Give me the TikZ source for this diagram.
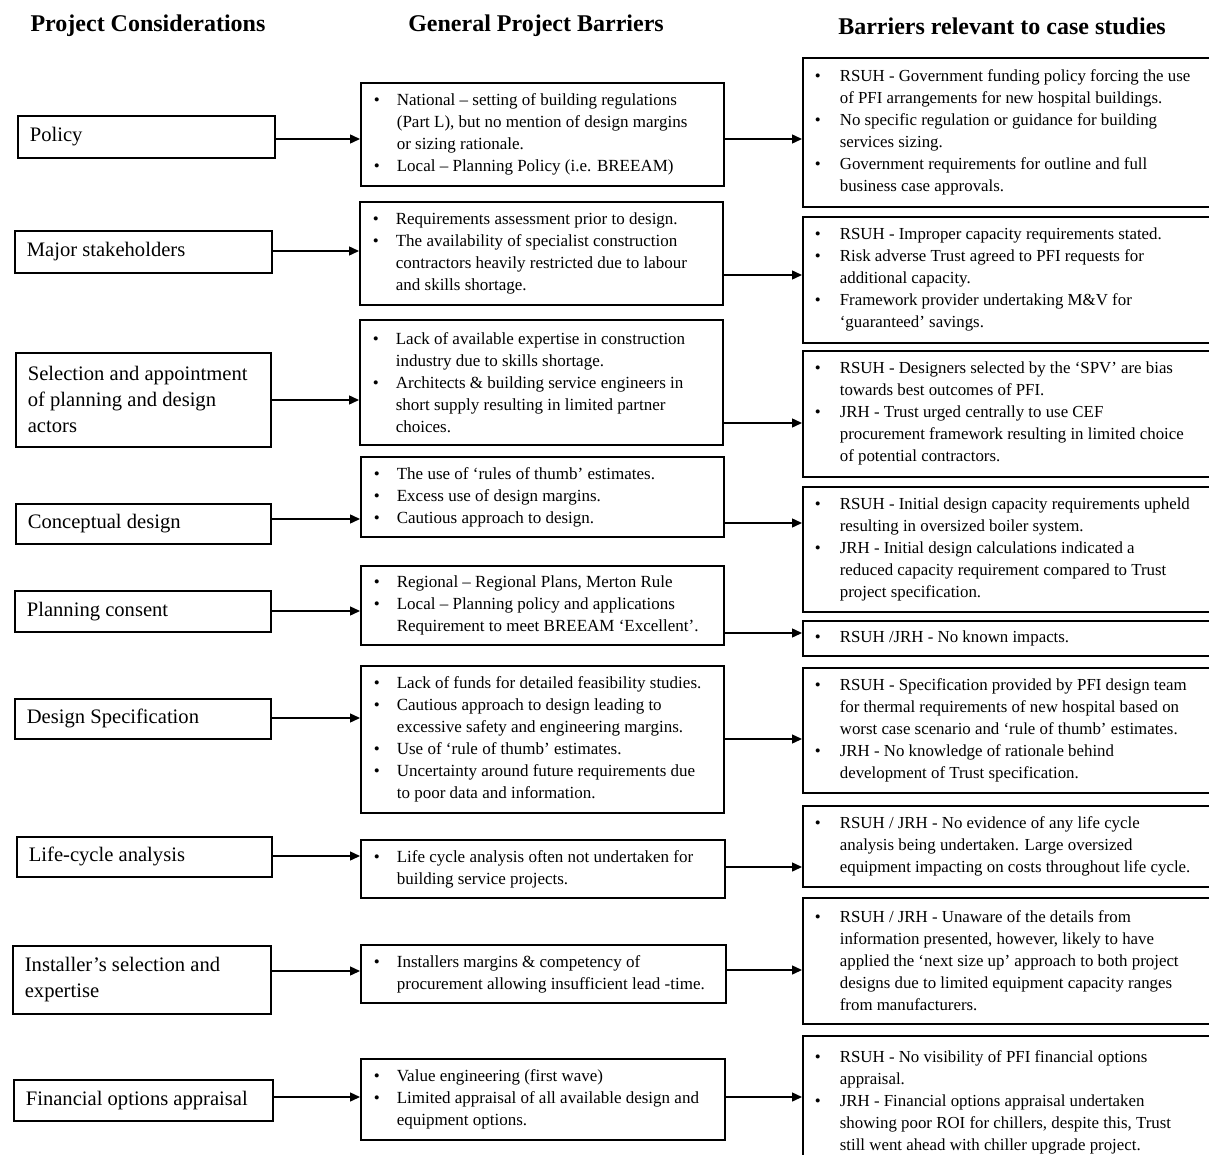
\documentclass[tikz,border=0pt]{standalone}
\usepackage{fontspec}
\setmainfont{Liberation Serif}
\usetikzlibrary{arrows.meta}
\newcommand\bitem[3]{\par\noindent\hangindent=#2pt\hangafter=1\makebox[#2pt][l]{\hspace{#1pt}\textbullet}#3\par}
\newcommand\mb[1]{\bitem{3}{26}{#1}}
\newcommand\rb[1]{\bitem{2}{27}{#1}}
\newcommand\nl{\newline}
\tikzset{
 box/.style={draw, line width=1.7pt, anchor=north west, inner xsep=10pt, inner ysep=0pt},
 lbox/.style={box, inner xsep=12pt, font=\fontsize{20.6}{26}\selectfont},
 mbox/.style={box, font=\fontsize{17}{22}\selectfont},
 rbox/.style={box, font=\fontsize{16.85}{22}\selectfont, minimum width=410},
 arr/.style={line width=1.4pt, -{Triangle[length=10pt,width=9pt]}},
 head/.style={font=\fontsize{24}{28}\selectfont\bfseries, anchor=base},
}
\begin{document}
\begin{tikzpicture}[x=1pt,y=-1pt]
\useasboundingbox (0,0) rectangle (1209,1155);
\clip (0,0) rectangle (1209,1155);
% headers
\node[head] (h1) at (148,32) {Project Considerations};
\node[head] (h2) at (536,32) {General Project Barriers};
\node[head] (h3) at (1002,35) {Barriers relevant to case studies};
% left boxes
\node[lbox, minimum width=257, minimum height=42] (l1) at (17,115) {\begin{minipage}{233pt}Policy\end{minipage}};
\node[lbox, minimum width=257, minimum height=42] (l2) at (14,230) {\begin{minipage}{233pt}Major stakeholders\end{minipage}};
\node[lbox, minimum width=255, minimum height=94] (l3) at (15,352) {\begin{minipage}{231pt}Selection and appointment\nl of planning and design\nl actors\end{minipage}};
\node[lbox, minimum width=255, minimum height=40] (l4) at (15,503) {\begin{minipage}{231pt}Conceptual design\end{minipage}};
\node[lbox, minimum width=256, minimum height=41] (l5) at (14,590) {\begin{minipage}{232pt}Planning consent\end{minipage}};
\node[lbox, minimum width=256, minimum height=40] (l6) at (14,698) {\begin{minipage}{232pt}Design Specification\end{minipage}};
\node[lbox, minimum width=255, minimum height=40] (l7) at (16,836) {\begin{minipage}{231pt}Life-cycle analysis\end{minipage}};
\node[lbox, minimum width=258, minimum height=68] (l8) at (12,945) {\begin{minipage}{234pt}Installer’s selection and\nl expertise\end{minipage}};
\node[lbox, minimum width=259, minimum height=41] (l9) at (13,1079) {\begin{minipage}{235pt}Financial options appraisal\end{minipage}};
% middle boxes
\node[mbox, minimum width=363, minimum height=103] (m1) at (360,82) {\begin{minipage}{343pt}
\mb{National – setting of building regulations\nl (Part L), but no mention of design margins\nl or sizing rationale.}
\mb{Local – Planning Policy (i.e. BREEAM)}\end{minipage}};
\node[mbox, minimum width=363, minimum height=103] (m2) at (359,201) {\begin{minipage}{343pt}
\mb{Requirements assessment prior to design.}
\mb{The availability of specialist construction\nl contractors heavily restricted due to labour\nl and skills shortage.}\end{minipage}};
\node[mbox, minimum width=363, minimum height=125] (m3) at (359,319) {\begin{minipage}{343pt}
\mb{Lack of available expertise in construction\nl industry due to skills shortage.}
\mb{Architects \& building service engineers in\nl short supply resulting in limited partner\nl choices.}\end{minipage}};
\node[mbox, minimum width=363, minimum height=80] (m4) at (360,456) {\begin{minipage}{343pt}
\mb{The use of ‘rules of thumb’ estimates.}
\mb{Excess use of design margins.}
\mb{Cautious approach to design.}\end{minipage}};
\node[mbox, minimum width=363, minimum height=79] (m5) at (360,565) {\begin{minipage}{343pt}
\mb{Regional – Regional Plans, Merton Rule}
\mb{Local – Planning policy and applications\nl Requirement to meet BREEAM ‘Excellent’.}\end{minipage}};
\node[mbox, minimum width=363, minimum height=147] (m6) at (360,665) {\begin{minipage}{343pt}
\mb{Lack of funds for detailed feasibility studies.}
\mb{Cautious approach to design leading to\nl excessive safety and engineering margins.}
\mb{Use of ‘rule of thumb’ estimates.}
\mb{Uncertainty around future requirements due\nl to poor data and information.}\end{minipage}};
\node[mbox, minimum width=364, minimum height=58] (m7) at (360,839) {\begin{minipage}{344pt}
\mb{Life cycle analysis often not undertaken for\nl building service projects.}\end{minipage}};
\node[mbox, minimum width=365, minimum height=58] (m8) at (360,944) {\begin{minipage}{345pt}
\mb{Installers margins \& competency of\nl procurement allowing insufficient lead -time.}\end{minipage}};
\node[mbox, minimum width=364, minimum height=81] (m9) at (360,1058) {\begin{minipage}{344pt}
\mb{Value engineering (first wave)}
\mb{Limited appraisal of all available design and\nl equipment options.}\end{minipage}};
% right boxes
\node[rbox, minimum height=149] (r1) at (802,57) {\begin{minipage}{390pt}
\rb{RSUH - Government funding policy forcing the use\nl of PFI arrangements for new hospital buildings.}
\rb{No specific regulation or guidance for building\nl services sizing.}
\rb{Government requirements for outline and full\nl business case approvals.}\end{minipage}};
\node[rbox, minimum height=126] (r2) at (802,216) {\begin{minipage}{390pt}
\rb{RSUH - Improper capacity requirements stated.}
\rb{Risk adverse Trust agreed to PFI requests for\nl additional capacity.}
\rb{Framework provider undertaking M\&V for\nl ‘guaranteed’ savings.}\end{minipage}};
\node[rbox, minimum height=126] (r3) at (802,350) {\begin{minipage}{390pt}
\rb{RSUH - Designers selected by the ‘SPV’ are bias\nl towards best outcomes of PFI.}
\rb{JRH - Trust urged centrally to use CEF\nl procurement framework resulting in limited choice\nl of potential contractors.}\end{minipage}};
\node[rbox, minimum height=125] (r4) at (802,486) {\begin{minipage}{390pt}
\rb{RSUH - Initial design capacity requirements upheld\nl resulting in oversized boiler system.}
\rb{JRH - Initial design calculations indicated a\nl reduced capacity requirement compared to Trust\nl project specification.}\end{minipage}};
\node[rbox, minimum height=35] (r5) at (802,620) {\begin{minipage}{390pt}
\rb{RSUH /JRH - No known impacts.}\end{minipage}};
\node[rbox, minimum height=125] (r6) at (802,667) {\begin{minipage}{390pt}
\rb{RSUH - Specification provided by PFI design team\nl for thermal requirements of new hospital based on\nl worst case scenario and ‘rule of thumb’ estimates.}
\rb{JRH - No knowledge of rationale behind\nl development of Trust specification.}\end{minipage}};
\node[rbox, minimum height=81] (r7) at (802,805) {\begin{minipage}{390pt}
\rb{RSUH / JRH - No evidence of any life cycle\nl analysis being undertaken. Large oversized\nl equipment impacting on costs throughout life cycle.}\end{minipage}};
\node[rbox, minimum height=126] (r8) at (802,897) {\begin{minipage}{390pt}
\rb{RSUH / JRH - Unaware of the details from\nl information presented, however, likely to have\nl applied the ‘next size up’ approach to both project\nl designs due to limited equipment capacity ranges\nl from manufacturers.}\end{minipage}};
\node[rbox, minimum height=134] (r9) at (802,1035) {\begin{minipage}{390pt}
\rb{RSUH - No visibility of PFI financial options\nl appraisal.}
\rb{JRH - Financial options appraisal undertaken\nl showing poor ROI for chillers, despite this, Trust\nl still went ahead with chiller upgrade project.}\end{minipage}};
% arrow levels
\coordinate (a1) at (0,139);  \coordinate (b1) at (0,139);
\coordinate (a2) at (0,251);  \coordinate (b2) at (0,275);
\coordinate (a3) at (0,400);  \coordinate (b3) at (0,423);
\coordinate (a4) at (0,519);  \coordinate (b4) at (0,523);
\coordinate (a5) at (0,611);  \coordinate (b5) at (0,633);
\coordinate (a6) at (0,718);  \coordinate (b6) at (0,739);
\coordinate (a7) at (0,856);  \coordinate (b7) at (0,867);
\coordinate (a8) at (0,971);  \coordinate (b8) at (0,970);
\coordinate (a9) at (0,1097); \coordinate (b9) at (0,1097);
\foreach \i in {1,...,9}{
  \draw[arr] (l\i.east |- a\i) -- (m\i.west |- a\i);
  \draw[arr] (m\i.east |- b\i) -- (r\i.west |- b\i);
}
\end{tikzpicture}
\end{document}
